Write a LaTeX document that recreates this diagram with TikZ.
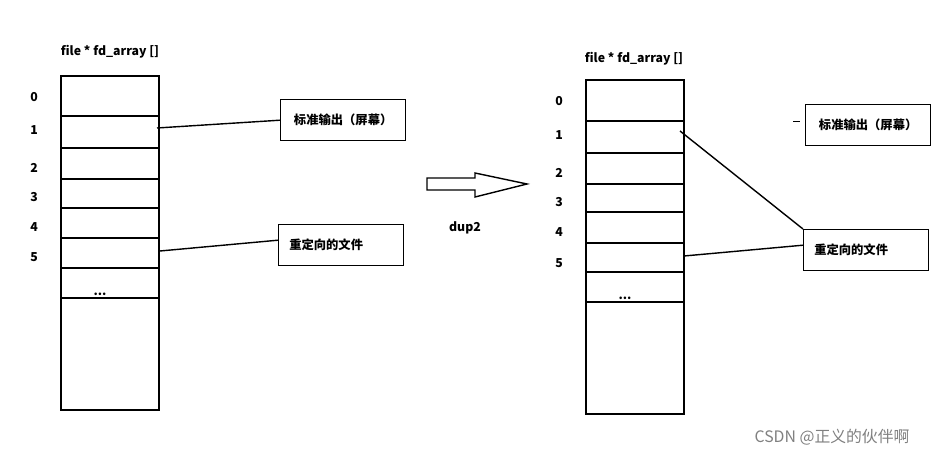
\documentclass[tikz,border=0pt]{standalone}
\usepackage{fontspec}
\setmainfont{Noto Sans CJK SC}
\usepackage{tikz}
\tikzset{
  lbl/.style={font=\bfseries\fontsize{7}{8}\selectfont},
  tgt/.style={draw,thick,minimum width=2.5cm,minimum height=0.82cm,anchor=north west,inner sep=0pt},
}
\begin{document}
\begin{tikzpicture}[x=0.02cm,y=-0.02cm,thick]
\useasboundingbox (0,0) rectangle (948,459);
% left table
\draw (61,76) rectangle (159,410);
\foreach \y in {116,148,179,208,238,268,298}
  \draw (61,\y) -- (159,\y);
\node[lbl] (tl) at (110,52) {file * fd\_array []};
\foreach \n/\y in {0/97,1/130,2/168,3/197,4/227,5/257}
  \node[lbl] at (34,\y) {\n};
\node[lbl] at (100,294) {...};
\node[tgt] (out) at (280,99) {};
\node[lbl] at (out.center) {标准输出（屏幕）};
\node[tgt] (fil) at (278,224) {};
\node[lbl] at ([xshift=-0.3cm]fil.center) {重定向的文件};
\coordinate (l1) at (157,128);
\coordinate (l5) at (160,251);
\draw (l1) -- (out.west);
\draw (l5) -- ([yshift=0.1cm]fil.west);
% arrow
\draw (427,178) -- (475,178) -- (475,173) -- (527,184) -- (475,197) -- (475,190) -- (427,190) -- cycle;
\node[lbl] (dup) at (465,228) {dup2};
% right table
\draw (586,80) rectangle (684,414);
\foreach \y in {121,153,184,212,243,272,302}
  \draw (586,\y) -- (684,\y);
\node[lbl] (tr) at (634,59) {file * fd\_array []};
\foreach \n/\y in {0/101,1/135,2/173,3/202,4/232,5/263}
  \node[lbl] at (559,\y) {\n};
\node[lbl] at (625,298) {...};
\node[tgt] (out2) at (805,104) {};
\node[lbl] at (out2.center) {标准输出（屏幕）};
\node[tgt] (fil2) at (803,229) {};
\node[lbl] at ([xshift=-0.3cm]fil2.center) {重定向的文件};
\draw[thin] (793,121) -- (800,121);
\coordinate (r1) at (680,131);
\coordinate (r5) at (684,256);
\draw (r1) -- (fil2.north west);
\draw (r5) -- ([yshift=0.1cm]fil2.west);
\node[gray,font=\fontsize{9}{10}\selectfont] (wm) at (832,437) {CSDN @正义的伙伴啊};
\end{tikzpicture}
\end{document}
